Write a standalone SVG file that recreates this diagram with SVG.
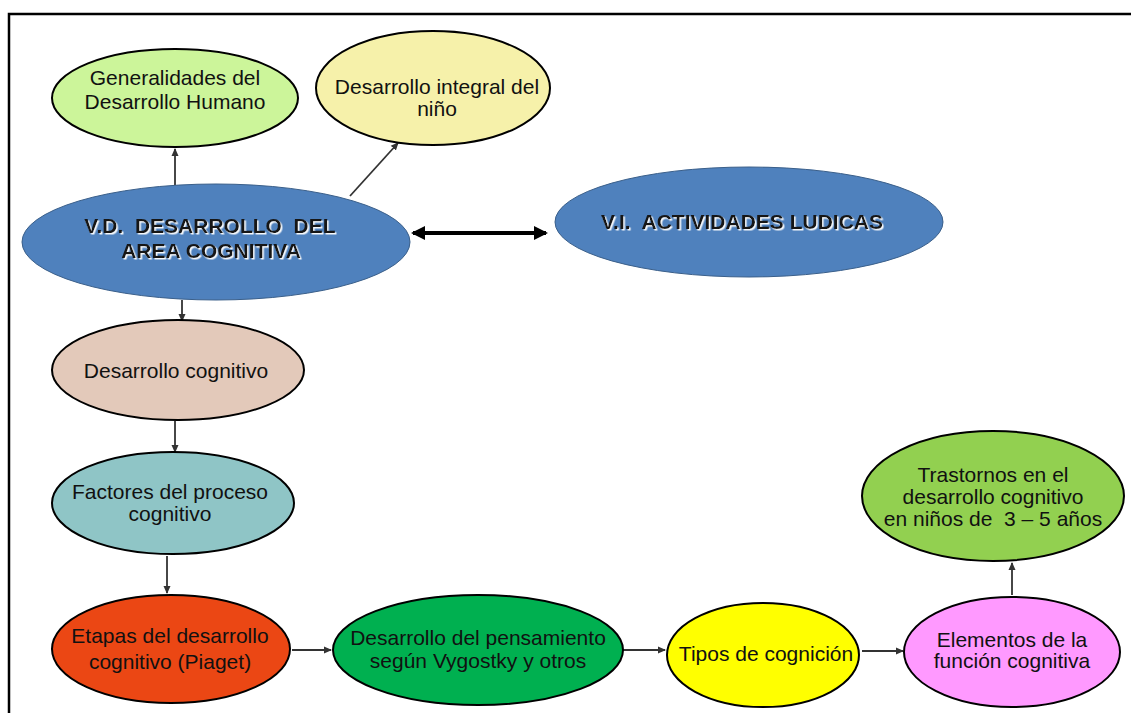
<svg xmlns="http://www.w3.org/2000/svg" width="1131" height="713" viewBox="0 0 1131 713">
<style>
.n{stroke:#000;stroke-width:2}
.t{font-family:"Liberation Sans",Arial,sans-serif;font-size:21px;fill:#111;text-anchor:middle}
.b{font-family:"Liberation Sans",Arial,sans-serif;font-size:21px;font-weight:bold;text-anchor:middle;fill:#151515;filter:url(#sh)}
.c{stroke:#333;stroke-width:1.8;fill:none;marker-end:url(#ah)}
</style>
<defs>
<filter id="sh" x="-10%" y="-30%" width="120%" height="160%">
<feDropShadow dx="1.5" dy="1.5" stdDeviation="0.6" flood-color="#ffffff" flood-opacity="0.95"/>
</filter>
<marker id="ah" markerWidth="8" markerHeight="8" refX="7" refY="4" orient="auto" markerUnits="userSpaceOnUse">
<path d="M0,0.5 L8,4 L0,7.5 z" fill="#333"/>
</marker>
<marker id="bh" markerWidth="14" markerHeight="14" refX="12" refY="7" orient="auto-start-reverse" markerUnits="userSpaceOnUse">
<path d="M0,0 L14,7 L0,14 z" fill="#000"/>
</marker>
</defs>
<rect width="1131" height="713" fill="#fff"/>
<path d="M9,713 V14 H1131" fill="none" stroke="#000" stroke-width="2.5"/>
<g id="connectors">
<line class="c" x1="175" y1="185" x2="175" y2="149"/>
<line class="c" x1="350" y1="196" x2="398" y2="143"/>
<line x1="413" y1="233" x2="546" y2="233" stroke="#000" stroke-width="4" marker-start="url(#bh)" marker-end="url(#bh)"/>
<line class="c" x1="182" y1="300" x2="182" y2="321"/>
<line class="c" x1="175" y1="421" x2="175" y2="452"/>
<line class="c" x1="167" y1="556" x2="167" y2="593"/>
<line class="c" x1="292" y1="650" x2="331" y2="650"/>
<line class="c" x1="622" y1="650" x2="665" y2="650"/>
<line class="c" x1="862" y1="651" x2="903" y2="651"/>
<line class="c" x1="1012" y1="595" x2="1012" y2="563"/>
</g>
<g id="n-generalidades">
<ellipse class="n" cx="175" cy="98" rx="123" ry="49" fill="#ccf59a"/>
<text class="t" x="175" y="85">Generalidades del</text>
<text class="t" x="175" y="109">Desarrollo Humano</text>
</g>
<g id="n-integral">
<ellipse class="n" cx="433" cy="88" rx="117" ry="57" fill="#f6f1aa"/>
<text class="t" x="437" y="94">Desarrollo integral del</text>
<text class="t" x="437" y="116">niño</text>
</g>
<g id="n-vd">
<ellipse cx="216" cy="242" rx="194" ry="58" fill="#4f81bd" stroke="#3a5f8a" stroke-width="1"/>
<text class="b" x="210" y="233" xml:space="preserve">V.D.  DESARROLLO  DEL</text>
<text class="b" x="211" y="258">AREA COGNITIVA</text>
</g>
<g id="n-vi">
<ellipse cx="749" cy="222" rx="194" ry="55" fill="#4f81bd" stroke="#3a5f8a" stroke-width="1"/>
<text class="b" x="742" y="229" xml:space="preserve">V.I.  ACTIVIDADES LUDICAS</text>
</g>
<g id="n-cognitivo">
<ellipse class="n" cx="178" cy="370" rx="126" ry="50" fill="#e3c9ba"/>
<text class="t" x="176" y="378">Desarrollo cognitivo</text>
</g>
<g id="n-factores">
<ellipse class="n" cx="173" cy="503" rx="121" ry="51" fill="#8fc5c6"/>
<text class="t" x="170" y="499">Factores del proceso</text>
<text class="t" x="170" y="521">cognitivo</text>
</g>
<g id="n-etapas">
<ellipse class="n" cx="171" cy="649" rx="119" ry="54" fill="#eb4714"/>
<text class="t" x="170" y="643">Etapas del desarrollo</text>
<text class="t" x="170" y="669">cognitivo (Piaget)</text>
</g>
<g id="n-pensamiento">
<ellipse class="n" cx="478" cy="650" rx="145" ry="55" fill="#00b050"/>
<text class="t" x="478" y="645">Desarrollo del pensamiento</text>
<text class="t" x="478" y="668">según Vygostky y otros</text>
</g>
<g id="n-tipos">
<ellipse class="n" cx="763" cy="655" rx="96" ry="52" fill="#ffff00"/>
<text class="t" x="766" y="661">Tipos de cognición</text>
</g>
<g id="n-elementos">
<ellipse class="n" cx="1012" cy="652" rx="108" ry="55" fill="#ff99ff"/>
<text class="t" x="1012" y="647">Elementos de la</text>
<text class="t" x="1012" y="668">función cognitiva</text>
</g>
<g id="n-trastornos">
<ellipse class="n" cx="993" cy="496" rx="131" ry="65" fill="#92d050"/>
<text class="t" x="993" y="482">Trastornos en el</text>
<text class="t" x="993" y="504">desarrollo cognitivo</text>
<text class="t" x="993" y="526" xml:space="preserve">en niños de  3 – 5 años</text>
</g>
</svg>
